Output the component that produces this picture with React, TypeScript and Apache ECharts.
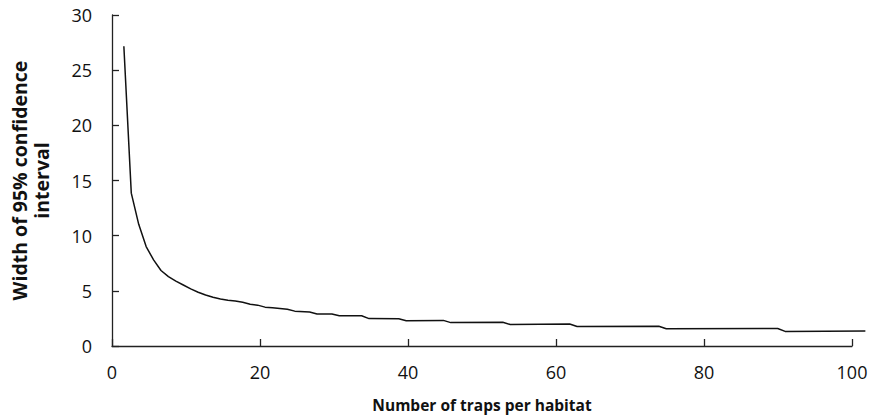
import React, { useEffect, useRef } from "react";
import * as echarts from "echarts";

const trapCounts = [2, 3, 4, 5, 6, 7, 8, 9, 10, 11, 12, 13, 14, 15, 16, 17, 18, 19, 20, 21, 22, 23, 24, 25, 27, 28, 30, 31, 34, 35, 39, 40, 45, 46, 53, 54, 62, 63, 74, 75, 90, 91, 101.8];
const ciWidths = [27.2, 14.0, 11.2, 9.2, 8.0, 7.05, 6.5, 6.1, 5.75, 5.4, 5.1, 4.85, 4.65, 4.5, 4.38, 4.32, 4.2, 4.02, 3.94, 3.76, 3.7, 3.64, 3.57, 3.4, 3.32, 3.15, 3.14, 2.98, 2.99, 2.73, 2.72, 2.54, 2.57, 2.37, 2.4, 2.2, 2.24, 2.02, 2.04, 1.82, 1.84, 1.58, 1.62];

const xTitle = "Number of traps per habitat";
const yTitle = "Width of 95% confidence\ninterval";

const X_MAX = 100;
const X_DATA_MAX = 101.8;

export default function App() {
  const ref = useRef<HTMLDivElement>(null);
  useEffect(() => {
    if (!ref.current) return;
    const chart = echarts.init(ref.current, null, { renderer: "svg" });
    const font = "'Open Sans', 'Noto Sans', sans-serif";
    const left = 109;
    const plotW = 743;
    const dataW = (plotW * X_DATA_MAX) / X_MAX;
    chart.setOption({
      animation: false,
      backgroundColor: "#ffffff",
      grid: [
        { left, width: plotW, top: 15, bottom: 69, containLabel: false },
        { left, width: dataW, top: 15, bottom: 69, containLabel: false },
      ],
      xAxis: [
        {
          type: "value",
          gridIndex: 0,
          min: 0,
          max: X_MAX,
          interval: 20,
          name: xTitle,
          nameLocation: "middle",
          nameGap: 51,
          nameTextStyle: { fontFamily: font, fontSize: 15.5, fontWeight: "bold", color: "#111" },
          axisLine: { lineStyle: { color: "#222", width: 1.3 } },
          axisTick: { inside: true, length: 7, lineStyle: { color: "#222", width: 1.3 } },
          axisLabel: { fontFamily: font, fontSize: 18, color: "#111", margin: 17 },
          splitLine: { show: false },
        },
        {
          type: "value",
          gridIndex: 1,
          min: 0,
          max: X_DATA_MAX,
          show: false,
        },
      ],
      yAxis: [
        {
          type: "value",
          gridIndex: 0,
          min: 0,
          max: 30,
          interval: 5,
          name: yTitle,
          nameLocation: "middle",
          nameGap: 60,
          nameTextStyle: { fontFamily: font, fontSize: 19.5, fontWeight: "bold", color: "#111", lineHeight: 22 },
          axisLine: { show: true, lineStyle: { color: "#222", width: 1.3 } },
          axisTick: { show: true, inside: true, length: 7, lineStyle: { color: "#222", width: 1.3 } },
          axisLabel: { fontFamily: font, fontSize: 18, color: "#111", margin: 20 },
          splitLine: { show: false },
        },
        {
          type: "value",
          gridIndex: 1,
          min: 0,
          max: 30,
          show: false,
        },
      ],
      series: [
        {
          type: "line",
          xAxisIndex: 1,
          yAxisIndex: 1,
          data: trapCounts.map((x, i) => [x, ciWidths[i]]),
          showSymbol: false,
          lineStyle: { color: "#111", width: 1.5 },
        },
      ],
    });
    return () => chart.dispose();
  }, []);
  return <div ref={ref} style={{ width: 872, height: 418, position: "absolute", left: 0, top: 0 }} />;
}
